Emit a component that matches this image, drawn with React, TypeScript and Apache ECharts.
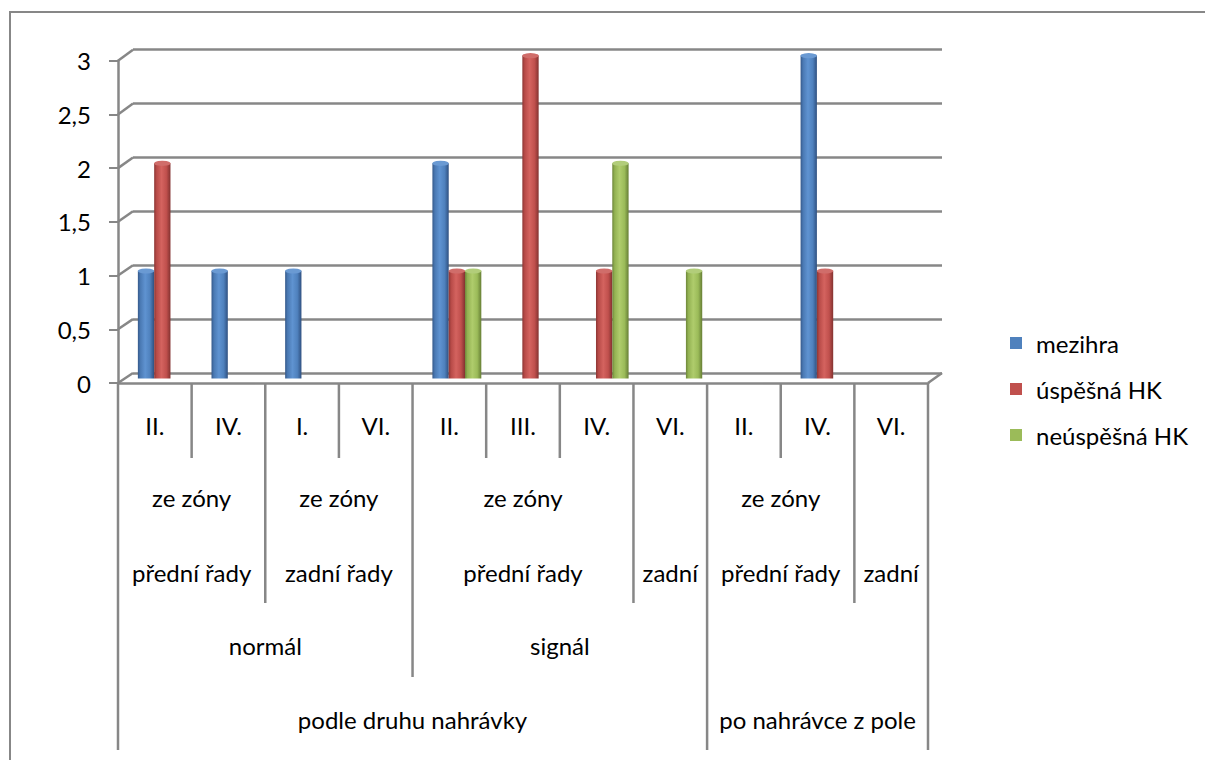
import React, { useEffect, useRef } from "react";
import * as echarts from "echarts";

const categories = ["II.", "IV.", "I.", "VI.", "II.", "III.", "IV.", "VI.", "II.", "IV.", "VI."];
const seriesNames = ["mezihra", "úspěšná HK", "neúspěšná HK"];
const mezihra = [1, 1, 1, 0, 2, 0, 0, 0, 0, 3, 0];
const uspesnaHK = [2, 0, 0, 0, 1, 3, 1, 0, 0, 1, 0];
const neuspesnaHK = [0, 0, 0, 0, 1, 0, 2, 1, 0, 0, 0];

const level2Labels = ["ze zóny\npřední řady", "ze zóny\nzadní řady", "ze zóny\npřední řady", "\nzadní", "ze zóny\npřední řady", "\nzadní"];
const level2Spans = [[0, 1], [2, 3], [4, 6], [7, 7], [8, 9], [10, 10]];
const level3Labels = ["normál", "signál", ""];
const level3Spans = [[0, 3], [4, 7], [8, 10]];
const level4Labels = ["podle druhu nahrávky", "po nahrávce z pole"];
const level4Spans = [[0, 7], [8, 10]];

const FONT = "Lato, 'Noto Sans', sans-serif";
const GRAY = "#878787";
const FS = 24;

const baseColors = ["#4F81BD", "#C0504D", "#9BBB59"];
const gradStops = [
  ["#35598a", "#4a79b3", "#5f93d1", "#4f81bd", "#2f5080"],
  ["#8c3634", "#b84b48", "#d4635f", "#c0504d", "#833230"],
  ["#6d8639", "#93b252", "#afcc6c", "#9bbb59", "#667e35"],
];
const capColors = ["#6a9ad3", "#d06d6a", "#b2cd7a"];

export default function App() {
  const ref = useRef<HTMLDivElement>(null);
  useEffect(() => {
    const chart = echarts.init(ref.current!, null, { renderer: "svg" });
    const data = [mezihra, uspesnaHK, neuspesnaHK];
    const barW = 16.3;
    const series: any[] = [];
    data.forEach((d, i) => {
      series.push({
        type: "bar",
        name: seriesNames[i],
        xAxisIndex: 1,
        yAxisIndex: 1,
        data: d,
        barWidth: barW,
        barGap: "0%",
        itemStyle: {
          color: new echarts.graphic.LinearGradient(0, 0, 1, 0, [
            { offset: 0, color: gradStops[i][0] },
            { offset: 0.15, color: gradStops[i][1] },
            { offset: 0.45, color: gradStops[i][2] },
            { offset: 0.75, color: gradStops[i][3] },
            { offset: 1, color: gradStops[i][4] },
          ]),
        },
        z: 3,
      });
    });
    data.forEach((d, i) => {
      series.push({
        type: "pictorialBar",
        name: seriesNames[i],
        xAxisIndex: 1,
        yAxisIndex: 1,
        data: d.map((v) => (v > 0 ? v : "-")),
        symbol: "circle",
        symbolSize: [barW, 5],
        symbolPosition: "end",
        symbolOffset: [(i - 1) * barW, "-50%"],
        itemStyle: { color: capColors[i], borderColor: gradStops[i][0], borderWidth: 0.6 },
        z: 4,
      });
    });

    const hiddenY = { type: "value", min: 0, max: 3, interval: 0.5 };
    const option: any = {
      animation: false,
      backgroundColor: "#ffffff",
      textStyle: { fontFamily: FONT },
      grid: [
        { left: 118, top: 60.7, width: 810, height: 322.3 },
        { left: 125.5, top: 55.5, width: 810, height: 323 },
        { left: 133, top: 49.7, width: 809, height: 323.3 },
      ],
      xAxis: [
        {
          gridIndex: 0,
          type: "category",
          data: categories,
          axisLine: { show: true, lineStyle: { color: GRAY, width: 2.5 } },
          axisTick: { show: false },
          axisLabel: { interval: 0, fontSize: FS, color: "#000", fontFamily: FONT, margin: 30 },
        },
        { gridIndex: 1, type: "category", data: categories, show: false },
        { gridIndex: 2, type: "category", data: categories, show: false },
      ],
      yAxis: [
        {
          gridIndex: 0,
          ...hiddenY,
          axisLine: { show: true, lineStyle: { color: GRAY, width: 2.5 } },
          axisTick: { show: true, length: 9, lineStyle: { color: GRAY, width: 2 } },
          splitLine: { show: false },
          axisLabel: {
            fontSize: FS,
            color: "#000",
            fontFamily: FONT,
            margin: 27,
            formatter: (v: number) => String(v).replace(".", ","),
          },
        },
        { gridIndex: 1, ...hiddenY, show: false },
        {
          gridIndex: 2,
          ...hiddenY,
          axisLine: { show: false },
          axisTick: { show: false },
          axisLabel: { show: false },
          splitLine: { show: true, lineStyle: { color: GRAY, width: 2.5 } },
        },
      ],
      legend: {
        orient: "vertical",
        left: 1005,
        top: 326,
        itemWidth: 12,
        itemHeight: 12,
        itemGap: 22,
        icon: "rect",
        textStyle: { fontSize: FS, color: "#000", fontFamily: FONT, padding: [0, 0, 0, 9] },
        data: seriesNames.map((n, i) => ({ name: n, itemStyle: { color: baseColors[i] } })),
      },
      series,
    };
    chart.setOption(option);

    const xF = (i: number) => chart.convertToPixel({ xAxisIndex: 0 }, i) as number;
    const xB = (i: number) => chart.convertToPixel({ xAxisIndex: 2 }, i) as number;
    const yF = (v: number) => chart.convertToPixel({ yAxisIndex: 0 }, v) as number;
    const yB = (v: number) => chart.convertToPixel({ yAxisIndex: 2 }, v) as number;
    const bw = xF(1) - xF(0);
    const bwB = xB(1) - xB(0);
    const bF = (b: number) => xF(0) + (b - 0.5) * bw;
    const bB = (b: number) => xB(0) + (b - 0.5) * bwB;
    const y0 = yF(0);
    const n = categories.length;

    const lineStyle = { stroke: GRAY, lineWidth: 2.5 };
    const g: any[] = [];
    g.push({
      type: "rect",
      silent: true,
      z: -1,
      shape: { x: 10, y: 12, width: 1400, height: 900 },
      style: { fill: "none", stroke: GRAY, lineWidth: 2 },
    });
    for (let v = 0; v <= 3; v += 0.5) {
      g.push({
        type: "line",
        silent: true,
        shape: { x1: bF(0), y1: yF(v), x2: bB(0), y2: yB(v) },
        style: lineStyle,
      });
    }
    g.push({
      type: "line",
      silent: true,
      shape: { x1: bF(n), y1: yF(0), x2: bB(n), y2: yB(0) },
      style: lineStyle,
    });

    const boundSet = (spans: number[][]) => {
      const s = new Set<number>();
      spans.forEach(([a, b]) => {
        s.add(a);
        s.add(b + 1);
      });
      return s;
    };
    const s4 = boundSet(level4Spans);
    const s3 = boundSet(level3Spans);
    const s2 = boundSet(level2Spans);
    const lens = [75, 220, 294, 367];
    for (let b = 0; b <= n; b++) {
      const len = s4.has(b) ? lens[3] : s3.has(b) ? lens[2] : s2.has(b) ? lens[1] : lens[0];
      g.push({
        type: "line",
        silent: true,
        shape: { x1: bF(b), y1: y0, x2: bF(b), y2: y0 + len },
        style: lineStyle,
      });
    }
    const addLabels = (labels: string[], spans: number[][], dy: number) => {
      labels.forEach((t, i) => {
        if (!t) return;
        const [a, b] = spans[i];
        g.push({
          type: "text",
          silent: true,
          x: (bF(a) + bF(b + 1)) / 2,
          y: y0 + dy,
          style: {
            text: t,
            fill: "#000",
            fontSize: FS,
            fontFamily: FONT,
            align: "center",
            verticalAlign: "middle",
            lineHeight: 75,
          },
        });
      });
    };
    addLabels(level2Labels, level2Spans, 151.5);
    addLabels(level3Labels, level3Spans, 262);
    addLabels(level4Labels, level4Spans, 336);
    chart.setOption({ graphic: g });

    return () => chart.dispose();
  }, []);
  return (
    <div
      ref={ref}
      style={{ position: "absolute", left: 0, top: 0, width: 1205, height: 760, background: "#fff" }}
    />
  );
}
